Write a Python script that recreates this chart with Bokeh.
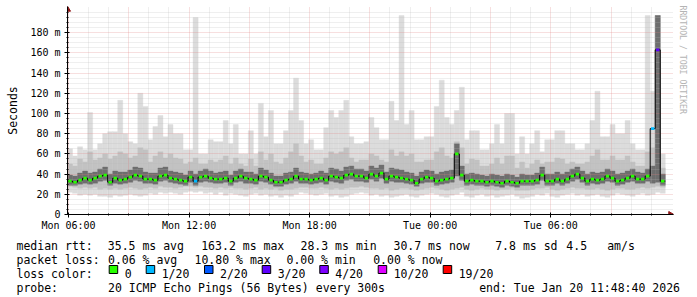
import math
import numpy as np
from bokeh.plotting import figure
from bokeh.models import FixedTicker, Range1d, Title
from bokeh.layouts import column
from bokeh.embed import file_html
from bokeh.resources import INLINE
from bokeh.core.properties import value

# ---------------- data ----------------
t_start = 5.95        # hours since Mon 00:00
t_end = 35.811        # Tue 11:48:40
step = 0.25           # 15 min consolidation
y_top = 200

# max (outer smoke top)
mx = [65, 58, 67, 64, 101, 64, 70, 80, 82, 82,
      113, 80, 72, 70, 120, 107, 74, 87, 98, 77,
      89, 80, 80, 64, 64, 195, 60, 60, 74, 72,
      72, 93, 70, 89, 60, 60, 83, 60, 110, 77,
      103, 70, 70, 83, 103, 135, 93, 70, 74, 64,
      64, 86, 103, 96, 103, 113, 77, 70, 70, 72,
      96, 86, 74, 74, 112, 93, 197, 89, 103, 74,
      74, 77, 77, 107, 133, 96, 89, 103, 126, 74,
      83, 83, 64, 64, 70, 89, 70, 100, 100, 60,
      77, 60, 70, 83, 62, 74, 74, 83, 83, 70,
      70, 64, 64, 70, 93, 122, 77, 77, 89, 80,
      80, 93, 70, 64, 64, 197, 122, 197, 60]
# upper medium smoke top
hi = [50, 48, 55, 52, 62, 54, 56, 60, 55, 58,
      62, 60, 56, 58, 66, 64, 52, 58, 62, 56,
      60, 56, 55, 50, 52, 56, 50, 50, 54, 52,
      54, 58, 50, 56, 50, 48, 55, 48, 62, 54,
      60, 52, 50, 56, 62, 70, 58, 52, 54, 50,
      50, 56, 62, 60, 62, 66, 56, 52, 54, 54,
      60, 58, 54, 52, 64, 58, 62, 58, 60, 52,
      52, 54, 54, 62, 66, 58, 56, 72, 66, 50,
      55, 54, 48, 48, 50, 56, 50, 58, 58, 46,
      52, 46, 50, 54, 50, 52, 52, 56, 55, 50,
      52, 50, 50, 52, 58, 64, 54, 54, 58, 54,
      54, 58, 52, 48, 48, 62, 66, 197, 46]
# dark core top
q3 = [39, 38, 41, 43, 41, 42, 45, 47, 40, 43,
      42, 42, 44, 47, 46, 42, 41, 41, 46, 47,
      43, 42, 41, 39, 43, 40, 43, 45, 43, 41,
      42, 43, 39, 43, 45, 42, 42, 40, 46, 44,
      41, 38, 38, 41, 42, 46, 42, 41, 40, 41,
      43, 41, 46, 45, 43, 47, 48, 45, 45, 43,
      48, 46, 49, 42, 46, 45, 44, 42, 41, 38,
      42, 44, 43, 40, 42, 43, 44, 70, 48, 40,
      41, 40, 39, 38, 40, 39, 38, 40, 39, 37,
      40, 39, 39, 41, 47, 40, 40, 42, 40, 42,
      45, 47, 43, 40, 42, 41, 42, 45, 43, 40,
      41, 43, 45, 42, 41, 45, 48, 197, 40]
# median rtt
md = [33, 32, 34, 36, 34, 36, 38, 39, 32, 36,
      34, 35, 37, 39, 38, 35, 35, 34, 38, 39,
      36, 35, 34, 33, 37, 33, 37, 38, 36, 35,
      35, 36, 33, 36, 38, 36, 35, 34, 38, 37,
      34, 32, 32, 34, 35, 38, 35, 35, 34, 35,
      36, 34, 38, 37, 36, 39, 40, 38, 38, 36,
      40, 38, 41, 35, 38, 37, 36, 35, 34, 31,
      35, 37, 36, 33, 34, 35, 36, 60, 39, 33,
      34, 33, 33, 32, 33, 32, 31, 33, 32, 31,
      33, 33, 33, 34, 39, 33, 33, 35, 33, 35,
      38, 40, 36, 33, 35, 34, 35, 38, 36, 33,
      34, 36, 38, 35, 35, 38, 85, 163, 33]
# dark core bottom
q1 = [29, 29, 30, 31, 30, 31, 33, 34, 29, 31,
      30, 31, 32, 34, 33, 31, 31, 30, 33, 34,
      32, 31, 30, 29, 32, 29, 32, 33, 32, 31,
      31, 32, 29, 32, 33, 31, 31, 30, 33, 32,
      30, 28, 28, 30, 31, 33, 31, 31, 30, 31,
      32, 30, 33, 32, 31, 34, 35, 33, 33, 32,
      35, 33, 36, 31, 33, 32, 32, 31, 30, 28,
      31, 32, 32, 29, 30, 31, 32, 38, 34, 29,
      30, 29, 29, 28, 29, 28, 27, 29, 28, 27,
      29, 29, 29, 30, 34, 29, 29, 31, 29, 31,
      33, 35, 32, 29, 31, 30, 31, 33, 32, 29,
      30, 32, 33, 31, 31, 33, 31, 32, 29]
# lower medium smoke bottom
lo = [28, 27, 26, 27, 26, 27, 25, 26, 25, 26,
      25, 26, 27, 26, 25, 26, 27, 26, 28, 27,
      27, 26, 27, 28, 28, 27, 28, 27, 27, 26,
      27, 26, 27, 26, 26, 25, 26, 27, 25, 26,
      25, 26, 24, 25, 25, 26, 27, 27, 26, 26,
      27, 26, 25, 26, 25, 26, 27, 27, 28, 27,
      26, 26, 25, 26, 24, 25, 26, 26, 25, 24,
      25, 26, 27, 26, 25, 24, 25, 26, 27, 25,
      24, 25, 26, 25, 25, 24, 25, 25, 26, 24,
      24, 24, 25, 26, 26, 27, 25, 24, 25, 26,
      27, 26, 26, 25, 25, 26, 25, 24, 25, 26,
      26, 25, 25, 26, 27, 26, 27, 28, 27]
# min (outer smoke bottom)
mn = [22, 21, 19, 20, 19, 20, 18, 18, 17, 19,
      18, 19, 20, 19, 18, 19, 21, 20, 22, 21,
      22, 21, 20, 22, 23, 22, 23, 21, 22, 20,
      22, 19, 21, 20, 19, 18, 20, 21, 19, 20,
      18, 19, 17, 19, 18, 20, 22, 21, 20, 19,
      20, 21, 18, 19, 17, 18, 20, 21, 22, 21,
      19, 20, 18, 19, 17, 18, 19, 20, 18, 17,
      19, 20, 21, 20, 18, 17, 19, 20, 22, 18,
      17, 19, 20, 18, 19, 17, 18, 19, 20, 18,
      16, 17, 18, 20, 19, 21, 18, 17, 19, 20,
      21, 19, 20, 18, 19, 20, 18, 17, 19, 21,
      20, 19, 18, 20, 21, 19, 20, 22, 21]
# pings lost (of 20) per step
loss = [0] * 25 + [1] + [0] * 90 + [1, 3, 0]

loss_levels = [0, 1, 2, 3, 4, 10, 19]
loss_labels = ["0", "1/20", "2/20", "3/20", "4/20", "10/20", "19/20"]
loss_colors = ["#26ff00", "#00b8ff", "#0059ff", "#5e00ff", "#7e00ff", "#dd00ff", "#ff0000"]

x_ticks = [6, 12, 18, 24, 30]
x_tick_labels = ["Mon 06:00", "Mon 12:00", "Mon 18:00", "Tue 00:00", "Tue 06:00"]
y_ticks = [0, 20, 40, 60, 80, 100, 120, 140, 160, 180]
y_tick_labels = ["0", "20 m", "40 m", "60 m", "80 m", "100 m", "120 m", "140 m", "160 m", "180 m"]

rtt_stats = ["35.5 ms avg", "163.2 ms max", "28.3 ms min", "30.7 ms now", "7.8 ms sd", "4.5", "am/s"]
loss_stats = ["0.06 % avg", "10.80 % max", "0.00 % min", "0.00 % now"]
probe_text = "20 ICMP Echo Pings (56 Bytes) every 300s"
end_text = "end: Tue Jan 20 11:48:40 2026"
watermark = "RRDTOOL / TOBI OETIKER"

# ---------------- chart ----------------
MONO = "DejaVu Sans Mono"
n = len(md)
left = t_start + step * np.arange(n)
right = left + step

# data area is 600 x 203 px; frame gets 6 px extra (top/right) for the axis arrows
px_x = (t_end - t_start) / 600.0
px_y = y_top / 203.0
x_hi = t_end + 6 * px_x
y_hi = y_top + 6 * px_y

def color_for(l):
    c = loss_colors[0]
    for lv, col in zip(loss_levels, loss_colors):
        if l >= lv:
            c = col
    return c

med_colors = [color_for(l) for l in loss]

def no_align(fig):
    try:
        fig.frame_align = False
    except Exception:
        pass

p = figure(width=697, height=233, x_range=Range1d(t_start, x_hi), y_range=Range1d(0, y_hi),
           output_backend="svg", toolbar_location=None,
           min_border_left=67, min_border_right=24, min_border_top=6, min_border_bottom=18)
no_align(p)
p.outline_line_color = None
p.background_fill_color = "white"
p.border_fill_color = "white"

for lo_arr, hi_arr, col in [(mn, mx, "#dcdcdc"), (lo, hi, "#c2c2c2"), (q1, q3, "#6e6e6e")]:
    r = p.quad(left=left, right=right, bottom=lo_arr, top=hi_arr,
               fill_color=col, line_color=col, line_width=0.4)
    r.level = "image"

# median: black step connector + loss coloured marks
p.step(x=list(left) + [right[-1]], y=md + [md[-1]], mode="after", line_color="black", line_width=1)
p.segment(x0=left + 0.04, x1=right - 0.04, y0=md, y1=md, line_color=med_colors, line_width=2.6)

# grids
p.xgrid.ticker = FixedTicker(ticks=list(range(6, 36, 3)),
                             minor_ticks=[h for h in range(6, 36) if h % 3])
p.ygrid.ticker = FixedTicker(ticks=list(range(20, 200, 20)),
                             minor_ticks=[v for v in range(5, 205, 5) if v % 20 or v == 200])
for g in (p.xgrid, p.ygrid):
    g.grid_line_color = "#e08080"
    g.grid_line_alpha = 0.5
    g.grid_line_dash = "1 1"
    g.minor_grid_line_color = "#b8b8b8"
    g.minor_grid_line_alpha = 0.45
    g.minor_grid_line_dash = "1 1"
    g.level = "underlay"

# axes
p.xaxis.ticker = FixedTicker(ticks=x_ticks, minor_ticks=list(range(6, 36)))
p.xaxis.major_label_overrides = dict(zip(x_ticks, x_tick_labels))
p.yaxis.ticker = FixedTicker(ticks=y_ticks, minor_ticks=list(range(5, 205, 5)))
p.yaxis.major_label_overrides = dict(zip(y_ticks, y_tick_labels))
for ax in (p.xaxis[0], p.yaxis[0]):
    ax.axis_line_color = "black"
    ax.major_tick_line_color = "black"
    ax.minor_tick_line_color = "black"
    ax.major_tick_out = 3
    ax.major_tick_in = 2
    ax.minor_tick_out = 1
    ax.minor_tick_in = 1
    ax.major_label_text_font = MONO
    ax.major_label_text_font_size = "10px"
    ax.major_label_text_color = "black"
p.xaxis.major_label_standoff = 2
p.yaxis.major_label_standoff = 4
p.yaxis.axis_label = "Seconds"
p.yaxis.axis_label_text_font = MONO
p.yaxis.axis_label_text_font_size = "11.5px"
p.yaxis.axis_label_text_font_style = "normal"
p.yaxis.axis_label_text_color = "black"
p.yaxis.axis_label_standoff = 7

# axis arrow heads at the ends of the two axes
arrow_col = "#901818"
p.scatter(x=[t_start], y=[y_top + 3 * px_y], marker="triangle", size=6,
          fill_color=arrow_col, line_color=arrow_col)
p.scatter(x=[t_end + 3 * px_x], y=[0], marker="triangle", angle=-math.pi / 2, size=6,
          fill_color=arrow_col, line_color=arrow_col)

p.add_layout(Title(text=watermark, align="left", text_font=MONO, text_font_size="8.2px",
                   text_font_style="normal", text_color="#b4b4b4", standoff=8, offset=-1), "right")

# ---------------- legend block ----------------
q = figure(width=697, height=64, x_range=Range1d(0, 697), y_range=Range1d(297, 233),
           output_backend="svg", toolbar_location=None,
           min_border_left=0, min_border_right=0, min_border_top=0, min_border_bottom=0)
no_align(q)
q.axis.visible = False
q.grid.visible = False
q.outline_line_color = None

rows_y = [245, 259, 273, 287]
txt, tx, ty = [], [], []
def put(s, x, y):
    txt.append(s); tx.append(x); ty.append(y)

put("median rtt:", 16, rows_y[0])
for s, x in zip(rtt_stats, [107.3, 200.7, 300, 393, 494.7, 565.8, 606.7]):
    put(s, x, rows_y[0])
put("packet loss:", 16, rows_y[1])
for s, x in zip(loss_stats, [107.5, 194, 286, 372.7]):
    put(s, x, rows_y[1])
put("loss color:", 16, rows_y[2])
box_x = [108.7, 145.7, 204, 261.7, 319.3, 377.7, 442.7]
for s, x in zip(loss_labels, box_x):
    put(s, x + 15.5, rows_y[2])
put("probe:", 16, rows_y[3])
put(probe_text, 107.5, rows_y[3])
put(end_text, 478.7, rows_y[3])

q.text(x=tx, y=ty, text=txt, text_font=value(MONO), text_font_size="11.5px",
       text_color="black", text_baseline="alphabetic", text_align="left")
q.quad(left=box_x, right=[b + 8.5 for b in box_x], top=[265] * len(box_x), bottom=[273] * len(box_x),
       fill_color=loss_colors, line_color="black", line_width=1)

layout = column(p, q, spacing=0)
open("out.html", "w").write(file_html(layout, INLINE))
